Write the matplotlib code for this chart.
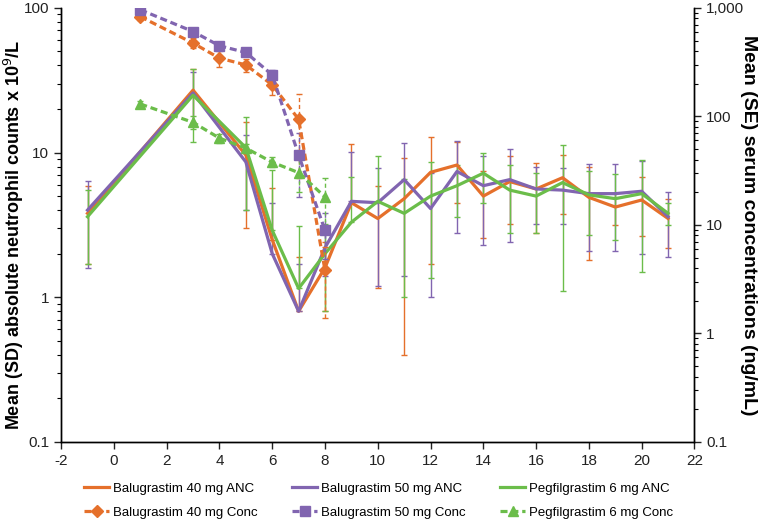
import numpy as np
import matplotlib
matplotlib.use('Agg')
from matplotlib import pyplot as plt
from matplotlib.ticker import FuncFormatter, LogLocator, NullFormatter

plt.rcParams['font.family'] = ['Liberation Sans', 'DejaVu Sans']
plt.rcParams['axes.unicode_minus'] = False

# ANC (left axis), mean and SD
days_anc = [-1, 3, 5, 6, 7, 8, 9, 10, 11, 12, 13, 14, 15, 16, 17, 18, 19, 20, 21]
b40_anc = [3.8, 27.0, 9.6, 2.5, 0.8, 1.6, 4.5, 3.5, 4.8, 7.3, 8.2, 5.0, 6.3, 5.6, 6.7, 4.9, 4.2, 4.7, 3.5]
b40_sd = [2.1, 11, 6.6, 3.2, 1.1, 0.8, 6.9, 2.35, 4.4, 5.6, 3.7, 2.44, 3.1, 2.8, 2.95, 3.1, 1.05, 2.05, 1.3]
b50_anc = [4.0, 25.8, 8.6, 2.0, 0.8, 2.2, 4.6, 4.5, 6.5, 4.1, 7.4, 5.9, 6.5, 5.6, 5.5, 5.2, 5.2, 5.4, 3.6]
b50_sd = [2.4, 10, 4.6, 2.5, 0.9, 0.8, 5.5, 3.3, 5.1, 3.1, 4.6, 3.6, 4.1, 2.4, 2.3, 3.1, 3.1, 3.4, 1.7]
peg_anc = [3.6, 24.9, 10.8, 2.9, 1.15, 2.0, 3.3, 4.6, 3.8, 5.0, 5.9, 7.2, 5.5, 5.0, 6.2, 5.1, 4.8, 5.2, 3.8]
peg_sd = [1.9, 13, 6.8, 4.7, 1.95, 1.2, 3.5, 4.8, 2.8, 3.65, 2.3, 2.7, 2.7, 2.2, 5.1, 2.4, 2.3, 3.7, 0.65]

# serum concentrations (right axis), mean and SE
days_conc = [1, 3, 4, 5, 6, 7, 8]
b40_conc = [830, 473, 344, 298, 195, 94, 3.8]
b40_se = [60, 50, 56, 39, 37, 67, 2.4]
b50_conc = [960, 605, 447, 388, 241, 44, 8.9]
b50_se = [40, 40, 30, 30, 27, 26, 4]
peg_conc = [130, 88, 63, 51, 37.8, 30.3, 18.1]
peg_se = [10, 12, 6, 5, 4, 10, 9]

names = ['Balugrastim 40 mg', 'Balugrastim 50 mg', 'Pegfilgrastim 6 mg']
colors = ['#E5702B', '#8165B0', '#6BBD4A']
markers = ['D', 's', '^']

def yerr_of(mean, err):
	mean = np.array(mean, dtype=float)
	err = np.array(err, dtype=float)
	lo = np.where(mean - err > 0, err, 0.0)  # negative lower limits are not drawn on log axis
	return [lo, err]

fig = plt.figure(figsize=(7.64, 5.23), dpi=100)
ax = fig.add_axes([0.080, 0.155, 0.829, 0.830])
ax2 = ax.twinx()

handles = []
labels = []
for name, c, m, y, e, yc, ec in zip(names, colors, markers,
		[b40_anc, b50_anc, peg_anc], [b40_sd, b50_sd, peg_sd],
		[b40_conc, b50_conc, peg_conc], [b40_se, b50_se, peg_se]):
	h1 = ax.errorbar(days_anc, y, yerr=yerr_of(y, e), color=c, lw=2.3,
		elinewidth=1, capsize=2.5, capthick=1)
	h2 = ax2.errorbar(days_conc, yc, yerr=yerr_of(yc, ec), color=c, lw=2.3, ls=(0, (2.2, 1.2)),
		marker=m, ms=6.5, elinewidth=1, capsize=2.5, capthick=1)
	h2[2][0].set_linestyle((0, (3, 2)))
	handles += [h1[0], h2[0]]
	labels += [name + ' ANC', name + ' Conc']

ax.set_yscale('log')
ax.set_ylim(0.1, 100)
ax2.set_yscale('log')
ax2.set_ylim(0.1, 1000)
ax.set_xlim(-2, 22)
ax.set_xticks(range(-2, 23, 2))

def fmt(v, p):
	if v >= 1:
		return '{:,.0f}'.format(v)
	return '{:g}'.format(v)

for a in (ax, ax2):
	a.yaxis.set_major_formatter(FuncFormatter(fmt))
	a.yaxis.set_minor_locator(LogLocator(base=10, subs=np.arange(2, 10), numticks=20))
	a.yaxis.set_minor_formatter(NullFormatter())
	a.tick_params(which='major', direction='out', length=5, width=1, labelsize=11, colors='#222222')
	a.tick_params(which='minor', direction='out', length=3, width=0.8)
	for s in a.spines.values():
		s.set_linewidth(1)
ax2.spines['top'].set_visible(False)
ax.spines['top'].set_visible(False)

ax.set_ylabel('Mean (SD) absolute neutrophil counts x 10$^9$/L', fontsize=13, fontweight='bold')
ax.yaxis.set_label_coords(-0.056, 0.478)
ax2.set_ylabel('Mean (SE) serum concentrations (ng/mL)', fontsize=14, fontweight='bold', rotation=270)
ax2.yaxis.set_label_coords(1.098, 0.5)

fig.legend(handles, labels, loc='center', bbox_to_anchor=(0.496, 0.043),
	ncol=3, frameon=False, fontsize=9.5, handlelength=1.9, columnspacing=2.6, labelspacing=0.9,
	handletextpad=0.3)

fig.savefig('out.png', dpi=100)
